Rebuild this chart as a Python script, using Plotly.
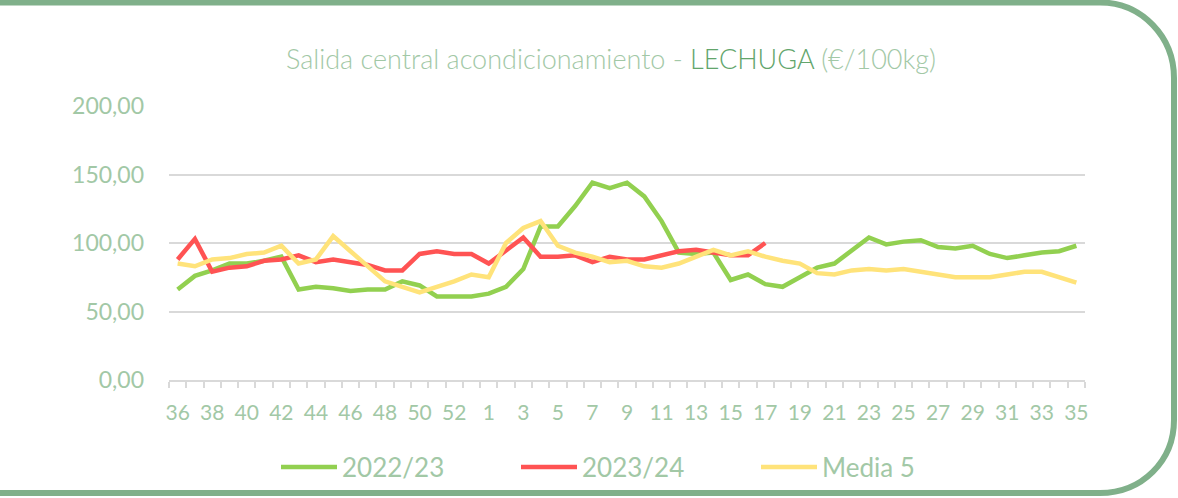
import plotly.graph_objects as go

weeks = [str(w) for w in list(range(36, 54)) + list(range(1, 36))]

s2022_23 = [66, 76, 80, 85, 85, 87, 90, 66, 68, 67, 65, 66, 66, 72, 69, 61, 61, 61,
            63, 68, 81, 112, 112, 127, 144, 140, 144, 134, 116, 93, 92, 93, 73, 77, 70, 68,
            75, 82, 85, 94, 104, 99, 101, 102, 97, 96, 98, 92, 89, 91, 93, 94, 98]
s2023_24 = [88, 103, 79, 82, 83, 87, 88, 91, 86, 88, 86, 84, 80, 80, 92, 94, 92, 92,
            85, 95, 104, 90, 90, 91, 86, 90, 88, 88, 91, 94, 95, 93, 91, 91, 100]
media5 = [85, 83, 88, 89, 92, 93, 98, 85, 88, 105, 94, 83, 72, 68, 64, 68, 72, 77,
          75, 100, 111, 116, 98, 93, 90, 86, 87, 83, 82, 85, 90, 95, 91, 94, 90, 87,
          85, 78, 77, 80, 81, 80, 81, 79, 77, 75, 75, 75, 77, 79, 79, 75, 71]

tick_text = [w if i % 2 == 0 else "" for i, w in enumerate(weeks)]

TXT = "#A2C8A6"
FONT = "Lato"

fig = go.Figure()
fig.add_trace(go.Scatter(x=weeks, y=s2022_23, name="2022/23", mode="lines",
                         line=dict(color="#92D050", width=4.5)))
fig.add_trace(go.Scatter(x=weeks[:len(s2023_24)], y=s2023_24, name="2023/24", mode="lines",
                         line=dict(color="#FF5353", width=4.5)))
fig.add_trace(go.Scatter(x=weeks, y=media5, name="Media 5", mode="lines",
                         line=dict(color="#FFE37A", width=4.5)))

# plot area pixel geometry
L, R, T, B = 169, 1085, 106, 380
W, H = R - L, B - T


def px(x):
    return (x - L) / W


def py(y):
    return (B - y) / H


pts = [
    ("M", [(-10, 2.5)]),
    ("L", [(1100, 2.5)]),
    ("C", [(1142, 2.5), (1174, 37), (1174, 78)]),
    ("L", [(1174, 420)]),
    ("C", [(1174, 461), (1142, 493), (1100, 493)]),
    ("L", [(-10, 493)]),
]
path = " ".join(cmd + " " + " ".join(f"{px(a):.5f},{py(b):.5f}" for a, b in p) for cmd, p in pts)

fig.add_shape(type="path", path=path, xref="paper", yref="paper",
              line=dict(color="#80B08A", width=6), layer="above")

fig.update_layout(
    width=1178, height=498,
    margin=dict(l=L, r=1178 - R, t=T, b=498 - B, autoexpand=False),
    paper_bgcolor="white", plot_bgcolor="white",
    separators=",.",
    font=dict(family=FONT, color=TXT, size=20),
    title=dict(
        text="Salida central acondicionamiento - <span style='color:#62A56B'>LECHUGA</span> (€/100kg)",
        x=611 / 1178, xanchor="center", y=1 - 60 / 498, yanchor="middle",
        font=dict(family=FONT, size=27, color=TXT, weight=300)),
    showlegend=True,
    legend=dict(orientation="h", x=px(276), xanchor="left", y=py(467), yanchor="middle",
                entrywidth=169, entrywidthmode="pixels", bgcolor="rgba(0,0,0,0)",
                font=dict(family=FONT, size=26, color=TXT), itemwidth=56),
    xaxis=dict(type="category", categoryorder="array", categoryarray=weeks,
               tickmode="array", tickvals=weeks, ticktext=tick_text,
               tickson="boundaries", ticks="outside", ticklen=6, tickcolor="#D9D9D9",
               tickwidth=1.5, showline=True, linecolor="#D9D9D9", linewidth=1.5,
               showgrid=False, tickangle=0, ticklabelstandoff=13,
               tickfont=dict(family=FONT, size=21, color=TXT),
               range=[-0.5, len(weeks) - 0.5]),
    yaxis=dict(range=[0, 200], tickvals=[0, 50, 100, 150, 200], tickformat=".2f",
               showgrid=True, gridcolor="#D9D9D9", gridwidth=1.5, zeroline=False,
               showline=False, ticks="", ticklabelstandoff=24,
               tickfont=dict(family=FONT, size=23, color=TXT)),
)

fig.write_html("out.html", config={"displayModeBar": False},
               post_script="document.body.style.margin='0';document.body.style.overflow='hidden';")
